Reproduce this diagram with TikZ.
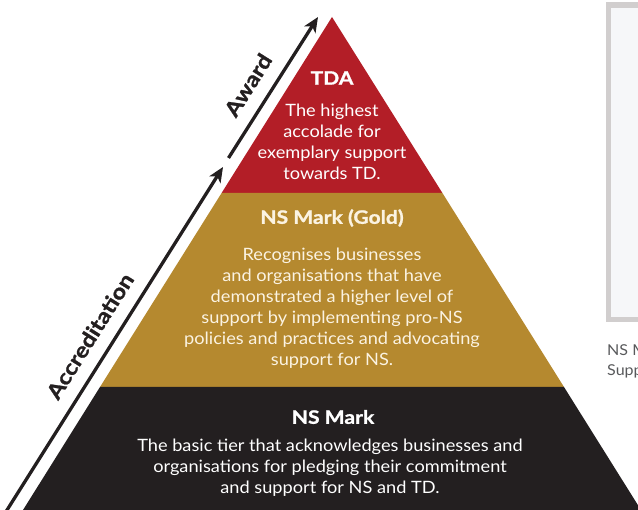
\documentclass[tikz,border=0pt]{standalone}
\usepackage{fontspec}
\setmainfont{Lato}[FakeStretch=1.07]
\newfontfamily\headfont{Lato}[FakeStretch=1.14, BoldFeatures={FakeBold=1.2}]
\usetikzlibrary{arrows.meta}
\definecolor{tdared}{HTML}{B31E27}
\definecolor{tiergold}{HTML}{B5892F}
\definecolor{tierblack}{HTML}{231F20}
\definecolor{goldtext}{HTML}{FBF3E2}
\definecolor{framegray}{HTML}{D1CECE}
\definecolor{framein}{HTML}{F6F7F9}
\definecolor{captiongray}{HTML}{58595B}
\tikzset{
  tiertitle/.style={font=\headfont\fontsize{18.5}{21}\selectfont\bfseries, inner sep=0pt},
  tierbody/.style={font=\fontsize{17}{21}\selectfont, align=center, inner sep=0pt},
  sidelabel/.style={font=\headfont\fontsize{21}{21}\selectfont\bfseries, text=tierblack, rotate=57.8, inner sep=0pt},
  growarrow/.style={line width=3.3pt, draw=tierblack, -{Stealth[length=15pt,width=13pt,inset=4pt]}},
  caption/.style={font=\fontsize{15}{21}\selectfont, text=captiongray, anchor=west, inner sep=0pt}
}
\begin{document}
\begin{tikzpicture}[x=1pt,y=-1pt]
\useasboundingbox (0,0) rectangle (638,510);
\clip (0,0) rectangle (638,510);
% tiers
\fill[tdared] (332,17) -- (442.4,193) -- (221.6,193) -- cycle;
\fill[tiergold] (221.6,193) -- (442.4,193) -- (564,387) -- (100,387) -- cycle;
\fill[tierblack] (100,387) -- (564,387) -- (646,518) -- (18,518) -- cycle;
% right frame
\fill[framegray] (606,2) rectangle (650,322);
\fill[framein] (611,8) rectangle (650,317);
\node[caption] (capA) at (607,350) {NS Mark};
\node[caption] (capB) at (607,371) {Supporters};
% arrows
\coordinate (lowstart) at (2,518);
\coordinate (lowtip) at (223,167);
\coordinate (upstart) at (228.5,158);
\coordinate (uptip) at (318,17);
\draw[growarrow] (lowstart) -- (lowtip);
\draw[growarrow] (upstart) -- (uptip);
\node[sidelabel] (award) at (248,85) {Award};
\node[sidelabel] (accr) at (90,336) {Accreditation};
% texts
\node[tiertitle, text=white] (tdaT) at (332,78) {TDA};
\node[tierbody, text=white] (tdaB) at (332,141.5) {The highest\\accolade for\\exemplary support\\towards TD.};
\node[tiertitle, text=goldtext] (goldT) at (332,218) {NS Mark (Gold)};
\node[tierbody, text=goldtext] (goldB) at (332,308) {Recognises businesses\\and organisations that have\\demonstrated a higher level of\\support by implementing pro-NS\\policies and practices and advocating\\support for NS.};
\node[tiertitle, text=white] (markT) at (333,417) {NS Mark};
\node[tierbody, text=white] (markB) at (330,468) {The basic tier that acknowledges businesses and\\organisations for pledging their commitment\\and support for NS and TD.};
\end{tikzpicture}
\end{document}
